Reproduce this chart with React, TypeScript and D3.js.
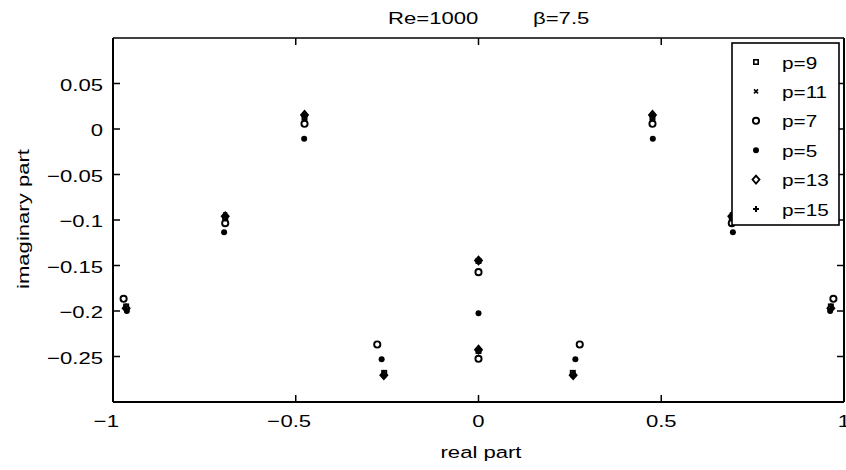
import React from "react";
import * as d3 from "d3";

// ---- data (real part, imaginary part) ----
const p9: [number, number][] = [
  [-0.476, 0.0125], [0.476, 0.0125], [-0.693, -0.098], [0.693, -0.098],
  [-0.964, -0.195], [0.964, -0.195], [-0.258, -0.268], [0.258, -0.268],
  [0, -0.145], [0, -0.244],
];
const p11: [number, number][] = [
  [-0.476, 0.0158], [0.476, 0.0158], [-0.693, -0.094], [0.693, -0.094],
  [-0.964, -0.1965], [0.964, -0.1965], [-0.258, -0.271], [0.258, -0.271],
  [0, -0.1445], [0, -0.242],
];
const p7: [number, number][] = [
  [-0.476, 0.0057], [0.476, 0.0057], [-0.693, -0.1035], [0.693, -0.1035],
  [-0.971, -0.1866], [0.971, -0.1866], [-0.277, -0.2368], [0.277, -0.2368],
  [0, -0.1573], [0, -0.2525],
];
const p5: [number, number][] = [
  [-0.477, -0.0108], [0.477, -0.0108], [-0.696, -0.1134], [0.696, -0.1134],
  [-0.962, -0.2], [0.962, -0.2], [-0.265, -0.253], [0.265, -0.253],
  [0, -0.2024],
];
const p13: [number, number][] = [
  [-0.476, 0.0155], [0.476, 0.0155], [-0.693, -0.096], [0.693, -0.096],
  [-0.964, -0.197], [0.964, -0.197], [-0.259, -0.2705], [0.259, -0.2705],
  [0, -0.1445], [0, -0.2425],
];
const p15: [number, number][] = [
  [-0.476, 0.0152], [0.476, 0.0152], [-0.693, -0.0965], [0.693, -0.0965],
  [-0.964, -0.1975], [0.964, -0.1975], [-0.259, -0.2705], [0.259, -0.2705],
  [0, -0.1448], [0, -0.2428],
];

const seriesLabels = ["p=9", "p=11", "p=7", "p=5", "p=13", "p=15"];
const seriesMarkers = ["square", "x", "circle", "dot", "diamond", "plus"];
const seriesData = [p9, p11, p7, p5, p13, p15];

const xTicks = [-1, -0.5, 0, 0.5, 1];
const yTicks = [-0.25, -0.2, -0.15, -0.1, -0.05, 0, 0.05];
const xDomain = [-1, 1];
const yDomain = [-0.3, 0.1];

const titleLeft = "Re=1000";
const titleRight = "β=7.5";
const xLabel = "real part";
const yLabel = "imaginary part";

// ---- layout ----
const W = 846, H = 470;
const L = 113, R = 844, T = 38, B = 402;
const FS = 17;
const SX = 1.3;
const FONT = "'Liberation Sans', Arial, Helvetica, sans-serif";

const charW: Record<string, number> = { "0": 0.556, "1": 0.556, "2": 0.556, "5": 0.556, ".": 0.278 };
const textW = (s: string) => s.split("").reduce((a, c) => a + (charW[c] ?? 0.556), 0) * FS * SX;

function T2({ x, y, anchor = "start", children, sx = SX, fs = FS, rotate = 0 }: any) {
  return (
    <g transform={`translate(${x},${y})${rotate ? ` rotate(${rotate})` : ""} scale(${sx},1)`}>
      <text x={0} y={0} textAnchor={anchor} fontSize={fs} fontFamily={FONT} fill="#000">
        {children}
      </text>
    </g>
  );
}

function Marker({ type, cx, cy }: { type: string; cx: number; cy: number }) {
  switch (type) {
    case "square":
      return <rect x={cx - 2.2} y={cy - 2.2} width={4.4} height={4.4} fill="none" stroke="#000" strokeWidth={1.6} />;
    case "x":
      return (
        <path d={`M${cx - 2},${cy - 2}L${cx + 2},${cy + 2}M${cx - 2},${cy + 2}L${cx + 2},${cy - 2}`} stroke="#000" strokeWidth={1.5} />
      );
    case "circle":
      return <circle cx={cx} cy={cy} r={3.1} fill="none" stroke="#000" strokeWidth={1.9} />;
    case "dot":
      return <circle cx={cx} cy={cy} r={3} fill="#000" />;
    case "diamond":
      return (
        <path d={`M${cx},${cy - 4}L${cx + 3.5},${cy}L${cx},${cy + 4}L${cx - 3.5},${cy}Z`} fill="none" stroke="#000" strokeWidth={1.8} />
      );
    case "plus":
      return (
        <path d={`M${cx - 3},${cy}L${cx + 3},${cy}M${cx},${cy - 3}L${cx},${cy + 3}`} stroke="#000" strokeWidth={2} />
      );
    default:
      return null;
  }
}

export default function App() {
  const x = d3.scaleLinear().domain(xDomain).range([L, R]);
  const y = d3.scaleLinear().domain(yDomain).range([B, T]);
  const tickLen = 7;

  const legX0 = 732, legX1 = 839, legY0 = 43, legY1 = 225;
  const legRow0 = 62, legStep = 29.4;

  return (
    <svg width={W} height={H} style={{ position: "absolute", left: 0, top: 0, background: "#fff" }}>
      <rect x={0} y={0} width={W} height={H} fill="#fff" />

      {/* title */}
      <T2 x={388} y={24}>{titleLeft}</T2>
      <T2 x={533} y={24}>{titleRight}</T2>

      {/* data */}
      {seriesData.map((pts, si) =>
        pts.map((d, i) => <Marker key={`${si}-${i}`} type={seriesMarkers[si]} cx={x(d[0])} cy={y(d[1])} />)
      )}

      {/* ticks */}
      {xTicks.map((t) => (
        <g key={`xt${t}`}>
          <line x1={x(t)} x2={x(t)} y1={B} y2={B - tickLen} stroke="#000" strokeWidth={1.5} />
          <line x1={x(t)} x2={x(t)} y1={T} y2={T + tickLen} stroke="#000" strokeWidth={1.5} />
        </g>
      ))}
      {yTicks.map((t) => (
        <g key={`yt${t}`}>
          <line x1={L} x2={L + tickLen} y1={y(t)} y2={y(t)} stroke="#000" strokeWidth={1.5} />
          <line x1={R} x2={R - tickLen} y1={y(t)} y2={y(t)} stroke="#000" strokeWidth={1.5} />
        </g>
      ))}

      {/* frame */}
      <line x1={L} x2={R} y1={T} y2={T} stroke="#000" strokeWidth={1.4} />
      <line x1={L} x2={L} y1={T} y2={B} stroke="#000" strokeWidth={2} />
      <line x1={L} x2={R} y1={B} y2={B} stroke="#000" strokeWidth={2} />
      <line x1={R} x2={R} y1={T} y2={B} stroke="#000" strokeWidth={2} />

      {/* x tick labels */}
      {xTicks.map((t) => {
        const s = String(Math.abs(t));
        const w = textW(s);
        return (
          <g key={`xl${t}`}>
            <T2 x={x(t)} y={427} anchor="middle">{s}</T2>
            {t < 0 && <T2 x={x(t) - w / 2 - 0.5} y={427} anchor="end">−</T2>}
          </g>
        );
      })}

      {/* y tick labels */}
      {yTicks.map((t) => (
        <T2 key={`yl${t}`} x={103} y={y(t) + 7} anchor="end">
          {t < 0 ? "−" + String(Math.abs(t)) : String(t)}
        </T2>
      ))}

      {/* axis labels */}
      <T2 x={481} y={458} anchor="middle">{xLabel}</T2>
      <T2 x={29} y={219} anchor="middle" rotate={-90}>{yLabel}</T2>

      {/* legend */}
      <rect x={legX0} y={legY0} width={legX1 - legX0} height={legY1 - legY0} fill="#fff" stroke="#000" strokeWidth={1.6} />
      {seriesLabels.map((lab, i) => {
        const cy = legRow0 + i * legStep;
        return (
          <g key={lab}>
            <Marker type={seriesMarkers[i]} cx={756} cy={cy} />
            <T2 x={782} y={cy + 6.5} sx={1.22}>{lab}</T2>
          </g>
        );
      })}
    </svg>
  );
}
